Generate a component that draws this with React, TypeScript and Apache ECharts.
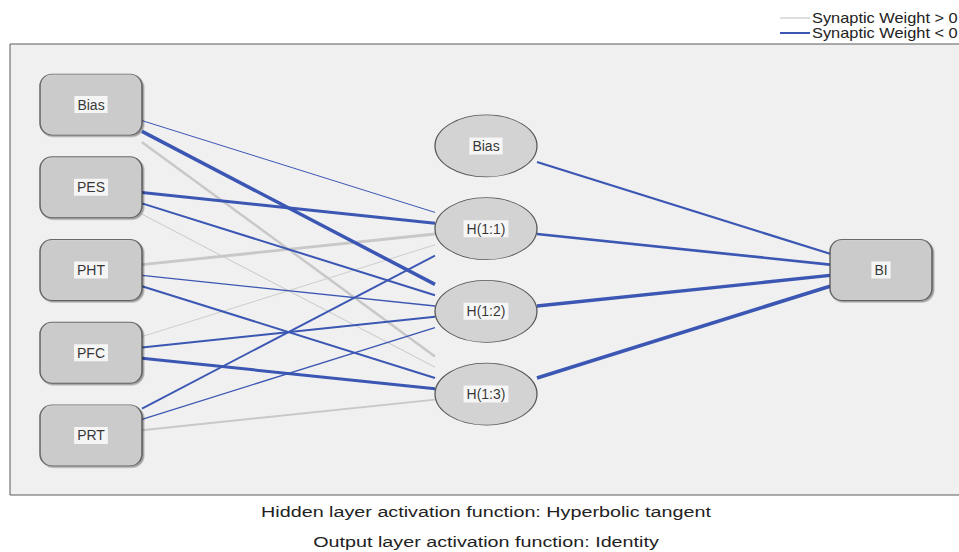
import React, { useEffect, useRef } from "react";
import * as echarts from "echarts";

// ---------- data ----------
const inputNodes = ["Bias", "PES", "PHT", "PFC", "PRT"];
const hiddenNodes = ["Bias", "H(1:1)", "H(1:2)", "H(1:3)"];
const outputNodes = ["BI"];
// synaptic weights: rows = input nodes, columns = H(1:1), H(1:2), H(1:3)
const inputHiddenWeights = [
  [-0.25, -0.88, 0.62],
  [-0.75, -0.5, 0.25],
  [0.72, -0.32, -0.5],
  [0.22, -0.5, -0.75],
  [-0.45, -0.33, 0.48],
];
// hidden (Bias, H(1:1), H(1:2), H(1:3)) -> BI
const hiddenOutputWeights = [-0.55, -0.68, -0.82, -0.9];
const legendLabels = ["Synaptic Weight > 0", "Synaptic Weight < 0"];
const captions = [
  "Hidden layer activation function: Hyperbolic tangent",
  "Output layer activation function: Identity",
];

// ---------- layout / style ----------
const FONT = "'Liberation Sans', Arial, sans-serif";
const POS_COLOR = "#c8c8c8";
const NEG_COLOR = "#3b57b3";
const FRAME = { left: 10, top: 44, bottom: 495, width: 949 };
const LAYER_PX = 395;
const FIRST_LAYER_PX = 91;
const CENTER_PX = 270;
const NODE_STEP_PX = 82.7;
const LINE_STEP_PX = 72;
const PORT_STEP = 0.15;
const NODE_W = 102;
const NODE_H = 61;
const HALF_W = NODE_W / 2 / LAYER_PX;
const WIDTH_SCALE = 4;

const xMin = -(FIRST_LAYER_PX - FRAME.left) / LAYER_PX;
const xMax = xMin + FRAME.width / LAYER_PX;
const yNodeMin = -(CENTER_PX - FRAME.top) / NODE_STEP_PX;
const yNodeMax = (FRAME.bottom - CENTER_PX) / NODE_STEP_PX;
const yLineMin = -(CENTER_PX - FRAME.top) / LINE_STEP_PX;
const yLineMax = (FRAME.bottom - CENTER_PX) / LINE_STEP_PX;

const ELLIPSE = "path://M0,50 A50,50 0 1 1 100,50 A50,50 0 1 1 0,50 Z";
const ROUND_BOX =
  "path://M12,0 H90 A12,12 0 0 1 102,12 V49 A12,12 0 0 1 90,61 H12 A12,12 0 0 1 0,49 V12 A12,12 0 0 1 12,0 Z";

const layers = [inputNodes, hiddenNodes, outputNodes];
const offset = (i: number, n: number) => i - (n - 1) / 2;

const nodeData: any[] = [];
layers.forEach((nodes, l) => {
  nodes.forEach((name, i) => {
    const hidden = l === 1;
    nodeData.push({
      name,
      value: [l, offset(i, nodes.length)],
      symbol: hidden ? ELLIPSE : ROUND_BOX,
      symbolSize: hidden ? [NODE_W, NODE_H + 1] : [NODE_W, NODE_H],
      itemStyle: hidden
        ? { color: "#cccccc", borderColor: "#333", borderWidth: 1 }
        : {
            color: "#cccccc",
            borderColor: "#4a4a4a",
            borderWidth: 1.2,
            shadowColor: "rgba(0,0,0,0.4)",
            shadowBlur: 1,
            shadowOffsetX: 1.5,
            shadowOffsetY: 1.5,
          },
    });
  });
});

type Edge = { coords: number[][]; w: number };
const edges: Edge[] = [];
inputHiddenWeights.forEach((row, i) => {
  row.forEach((w, k) => {
    const j = k + 1; // hidden index (0 is hidden Bias)
    edges.push({
      w,
      coords: [
        [0 + HALF_W, offset(i, inputNodes.length) + offset(j, hiddenNodes.length) * PORT_STEP],
        [1 - HALF_W, offset(j, hiddenNodes.length) + offset(i, inputNodes.length) * PORT_STEP],
      ],
    });
  });
});
hiddenOutputWeights.forEach((w, j) => {
  edges.push({
    w,
    coords: [
      [1 + HALF_W, offset(j, hiddenNodes.length) + offset(0, outputNodes.length) * PORT_STEP],
      [2 - HALF_W, offset(0, outputNodes.length) + offset(j, hiddenNodes.length) * PORT_STEP],
    ],
  });
});

const edgeItems = (positive: boolean) =>
  edges
    .filter((e) => (e.w > 0) === positive)
    .map((e) => ({
      coords: e.coords,
      lineStyle: {
        width: Math.max(0.9, Math.abs(e.w) * WIDTH_SCALE),
        color: positive ? POS_COLOR : NEG_COLOR,
        opacity: 1,
      },
    }));

const option: any = {
  animation: false,
  backgroundColor: "#ffffff",
  grid: {
    left: FRAME.left,
    top: FRAME.top,
    width: FRAME.width,
    height: FRAME.bottom - FRAME.top,
    show: true,
    backgroundColor: "#f0f0f0",
    borderWidth: 0,
  },
  xAxis: { type: "value", min: xMin, max: xMax, show: false },
  yAxis: [
    { type: "value", min: yNodeMin, max: yNodeMax, inverse: true, show: false },
    { type: "value", min: yLineMin, max: yLineMax, inverse: true, show: false },
  ],
  series: [
    {
      name: legendLabels[0],
      type: "lines",
      coordinateSystem: "cartesian2d",
      xAxisIndex: 0,
      yAxisIndex: 1,
      z: 2,
      silent: true,
      lineStyle: { opacity: 1 },
      data: edgeItems(true),
    },
    {
      name: legendLabels[1],
      type: "lines",
      coordinateSystem: "cartesian2d",
      xAxisIndex: 0,
      yAxisIndex: 1,
      z: 3,
      silent: true,
      lineStyle: { opacity: 1 },
      data: edgeItems(false),
    },
    {
      type: "scatter",
      xAxisIndex: 0,
      yAxisIndex: 0,
      z: 5,
      silent: true,
      clip: false,
      data: nodeData,
      label: {
        show: true,
        position: "inside",
        formatter: "{b}",
        color: "#000",
        fontSize: 14,
        fontFamily: FONT,
        backgroundColor: "#ffffff",
        padding: [2, 3, 1, 3],
      },
    },
  ],
  graphic: [
    {
      type: "polyline",
      z: 100,
      shape: {
        points: [
          [FRAME.left + FRAME.width + 20, FRAME.top],
          [FRAME.left, FRAME.top],
          [FRAME.left, FRAME.bottom],
          [FRAME.left + FRAME.width + 20, FRAME.bottom],
        ],
      },
      style: { stroke: "#5a5a5a", lineWidth: 1, fill: null },
    },
    {
      type: "line",
      shape: { x1: 780, y1: 18, x2: 810, y2: 18 },
      style: { stroke: POS_COLOR, lineWidth: 1.2 },
    },
    {
      type: "line",
      shape: { x1: 780, y1: 33, x2: 810, y2: 33 },
      style: { stroke: NEG_COLOR, lineWidth: 2 },
    },
    ...legendLabels.map((t, i) => ({
      type: "text",
      x: 812,
      y: 18 + i * 15,
      scaleX: 1.17,
      style: {
        text: t,
        font: `14px ${FONT}`,
        fill: "#222",
        align: "left",
        verticalAlign: "middle",
        textAlign: "left",
        textVerticalAlign: "middle",
      },
    })),
    ...captions.map((t, i) => ({
      type: "text",
      x: 486,
      y: 513 + i * 30,
      scaleX: 1.41,
      style: {
        text: t,
        font: `14px ${FONT}`,
        fill: "#222",
        align: "center",
        verticalAlign: "middle",
        textAlign: "center",
        textVerticalAlign: "middle",
      },
    })),
  ],
};

export default function App() {
  const ref = useRef<HTMLDivElement>(null);
  useEffect(() => {
    if (!ref.current) return;
    const chart = echarts.init(ref.current, undefined, { renderer: "svg" });
    chart.setOption(option);
    return () => chart.dispose();
  }, []);
  return (
    <div
      ref={ref}
      style={{ position: "fixed", left: 0, top: 0, width: 959, height: 552, background: "#fff" }}
    />
  );
}
